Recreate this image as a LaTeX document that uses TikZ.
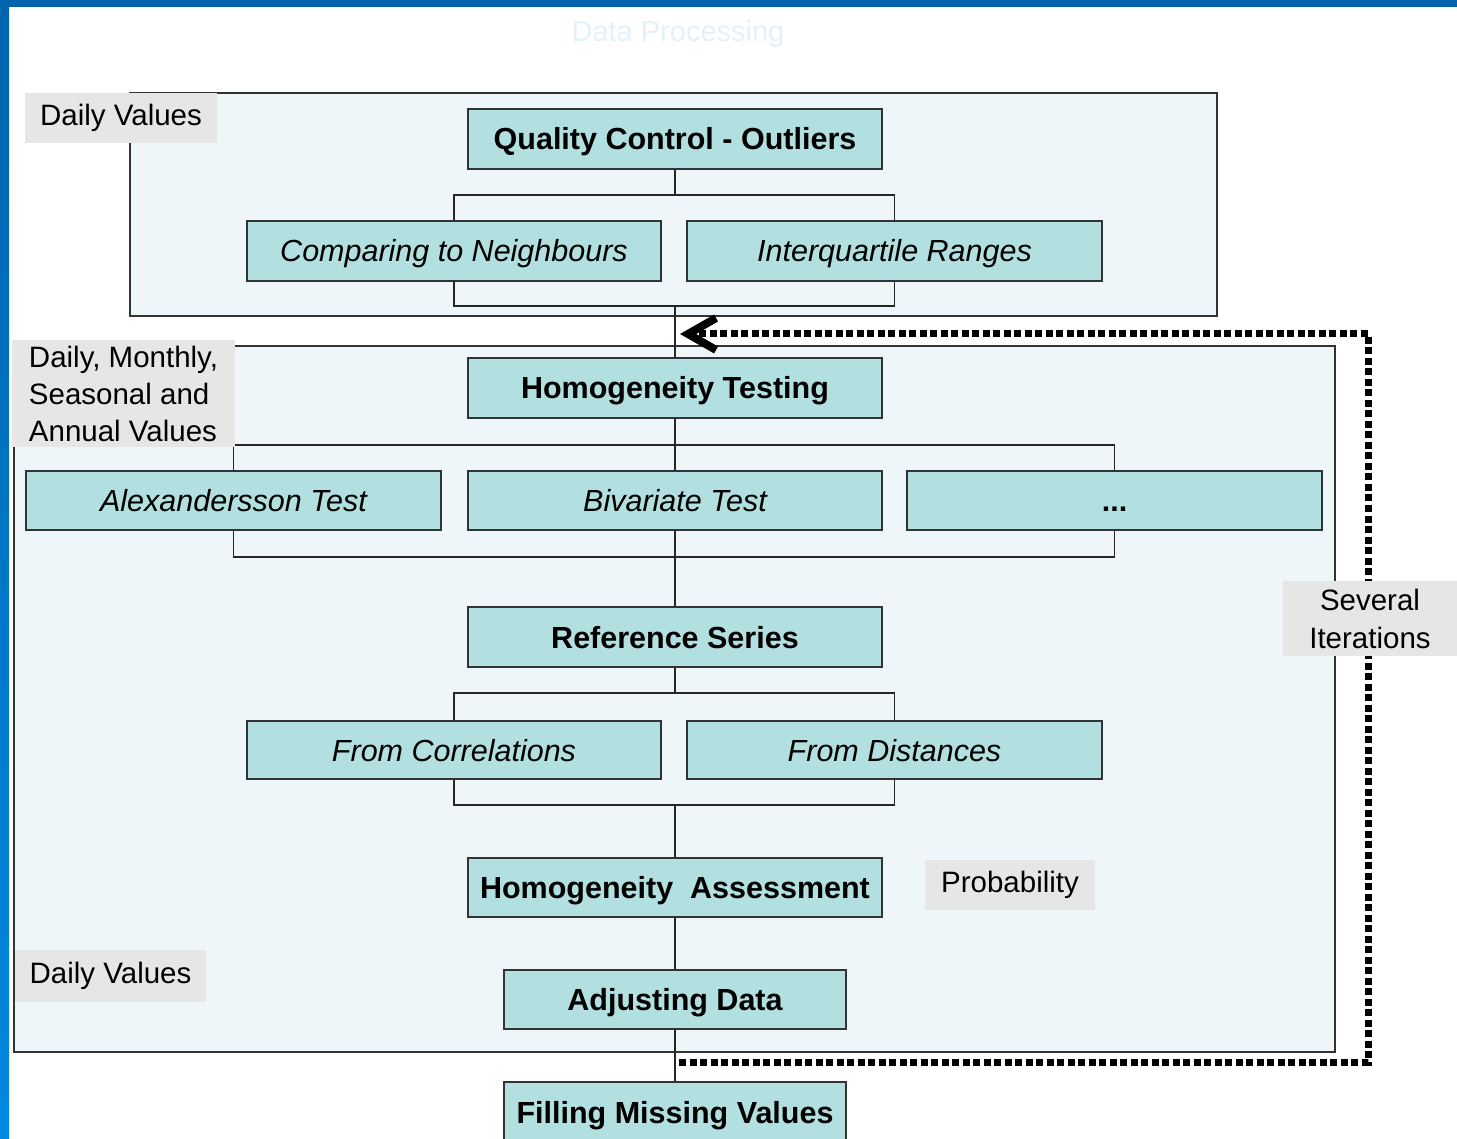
\documentclass[tikz,border=0pt]{standalone}
\usepackage{fontspec}
\setmainfont{Liberation Sans}
\usetikzlibrary{arrows.meta}
\definecolor{boxfill}{HTML}{B2DFE0}
\definecolor{panelfill}{HTML}{EEF6F9}
\definecolor{edge}{HTML}{333333}
\definecolor{tagfill}{HTML}{E6E6E6}
\definecolor{bluetop}{HTML}{0064AE}
\definecolor{bluebot}{HTML}{0088E0}
\definecolor{titlecol}{HTML}{E4F1F8}
\begin{document}
\begin{tikzpicture}[x=1pt,y=-1pt,
  stepbox/.style={draw=edge, fill=boxfill, line width=1.5pt, minimum height=60pt, inner sep=0pt,
    text height=22pt, text depth=0pt},
  mainbox/.style={stepbox, font=\fontsize{30.5}{36}\selectfont\bfseries},
  subbox/.style={stepbox, font=\fontsize{30.5}{36}\selectfont\itshape},
  tag/.style={fill=tagfill, inner sep=0pt, font=\fontsize{29.5}{37}\selectfont},
  panel/.style={draw=edge, fill=panelfill, line width=1.5pt},
  conn/.style={draw=black!85, line width=1.5pt},
  feedback/.style={line width=7pt, dash pattern=on 7pt off 3.5pt,
    -{Straight Barb[length=28pt,width=32pt,line width=8pt]}}
]
\useasboundingbox (0,0) rectangle (1457,1139);
\clip (0,0) rectangle (1457,1139);
% background
\fill[white] (0,0) rectangle (1457,1139);
\fill[bluetop] (0,0) rectangle (1457,7);
\shade[top color=bluetop, bottom color=bluebot] (0,0) rectangle (9,1139);
\node[text=titlecol, font=\fontsize{29}{34}\selectfont] (title) at (678,34) {Data Processing};

% panels
\path[panel] (130,93) rectangle (1217,316);
\path[panel] (14,346) rectangle (1335,1052);

% boxes
\node[mainbox, minimum width=414pt] (qc) at (675,139) {Quality Control - Outliers};
\node[subbox, minimum width=414pt] (cmp) at (454,251) {Comparing to Neighbours};
\node[subbox, minimum width=415pt] (iqr) at (894.5,251) {Interquartile Ranges};

\node[mainbox, minimum width=414pt] (ht) at (675,388) {Homogeneity Testing};
\node[subbox, minimum width=415pt, minimum height=59pt] (alex) at (233.5,500.5) {Alexandersson Test};
\node[subbox, minimum width=414pt, minimum height=59pt] (biv) at (675,500.5) {Bivariate Test};
\node[mainbox, minimum width=415pt, minimum height=59pt] (dots) at (1114.5,500.5) {...};

\node[mainbox, minimum width=414pt] (rs) at (675,637) {Reference Series};
\node[subbox, minimum width=414pt, minimum height=58pt] (fc) at (454,750) {From Correlations};
\node[subbox, minimum width=415pt, minimum height=58pt] (fd) at (894.5,750) {From Distances};

\node[mainbox, minimum width=414pt, minimum height=59pt] (ha) at (675,887.5) {Homogeneity~~Assessment};
\node[mainbox, minimum width=342pt, minimum height=59pt] (ad) at (675,999.5) {Adjusting Data};
\node[mainbox, minimum width=342pt, minimum height=60pt] (fm) at (675,1112) {Filling Missing Values};

% junction coordinates
\coordinate (b1) at (675,195);
\coordinate (b2) at (675,306);
\coordinate (b3) at (675,445);
\coordinate (b4) at (675,557);
\coordinate (b5) at (675,693);
\coordinate (b6) at (675,805);

% connectors
\draw[conn] (qc.south) -- (b1);
\draw[conn] (cmp.north) |- (b1) -| (iqr.north);
\draw[conn] (cmp.south) |- (b2) -| (iqr.south);
\draw[conn] (b2) -- (ht.north);
\draw[conn] (ht.south) -- (b3);
\draw[conn] (alex.north) |- (b3) -| (dots.north);
\draw[conn] (b3) -- (biv.north);
\draw[conn] (biv.south) -- (b4);
\draw[conn] (alex.south) |- (b4) -| (dots.south);
\draw[conn] (b4) -- (rs.north);
\draw[conn] (rs.south) -- (b5);
\draw[conn] (fc.north) |- (b5) -| (fd.north);
\draw[conn] (fc.south) |- (b6) -| (fd.south);
\draw[conn] (b6) -- (ha.north);
\draw[conn] (ha.south) -- (ad.north);
\draw[conn] (ad.south) -- (fm.north);

% feedback loop
\coordinate (fbstart) at (679,1062);
\coordinate (fbc1) at (1368,1062);
\coordinate (fbc2) at (1368,334);
\coordinate (fbtip) at (680,334);
\draw[feedback] (fbstart) -- (fbc1) -- (fbc2) -- (fbtip);

% tags
\node[tag, minimum width=192pt, minimum height=50pt] (tagA) at (121,118) {Daily Values};
\node[tag, minimum width=223pt, minimum height=107pt, align=left] (tagB) at (123.5,393.5) {Daily, Monthly,\\Seasonal and\\Annual Values};
\node[tag, minimum width=191pt, minimum height=52pt] (tagC) at (110.5,976) {Daily Values};
\node[tag, minimum width=170pt, minimum height=50pt] (tagD) at (1010,885) {Probability};
\node[tag, minimum width=174pt, minimum height=75pt, align=center, font=\fontsize{29.5}{38}\selectfont] (tagE) at (1370,618.5) {Several\\Iterations};
\end{tikzpicture}
\end{document}
